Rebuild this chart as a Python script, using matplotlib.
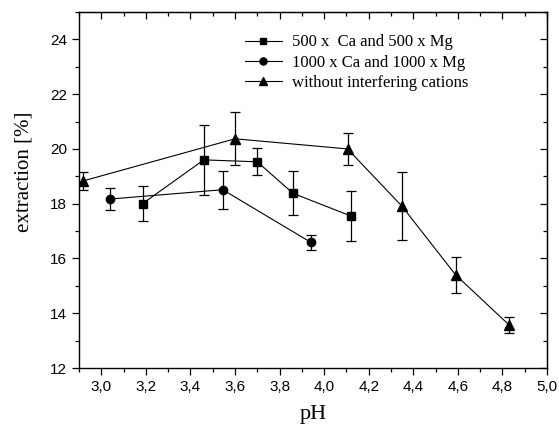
import matplotlib
matplotlib.use("Agg")
import matplotlib.pyplot as plt
from matplotlib.lines import Line2D
from matplotlib.ticker import MultipleLocator, FuncFormatter

# data
ph_500 = [3.185, 3.46, 3.70, 3.86, 4.12]
ext_500 = [18.0, 19.6, 19.53, 18.38, 17.55]
err_500 = [0.65, 1.29, 0.49, 0.80, 0.93]

ph_1000 = [3.04, 3.545, 3.94]
ext_1000 = [18.17, 18.51, 16.59]
err_1000 = [0.40, 0.70, 0.28]

ph_free = [2.918, 3.60, 4.105, 4.35, 4.59, 4.83]
ext_free = [18.83, 20.37, 20.0, 17.9, 15.4, 13.57]
err_free = [0.33, 0.97, 0.58, 1.24, 0.67, 0.29]

labels = ["500 x  Ca and 500 x Mg", "1000 x Ca and 1000 x Mg", "without interfering cations"]
markers = ["s", "o", "^"]
sizes = [5.5, 6, 6.8]

serif = "Liberation Serif"
sans = "Liberation Sans"

fig = plt.figure(figsize=(5.59, 4.32), dpi=100)
ax = fig.add_axes([79 / 559, 1 - 368 / 432, (547 - 79) / 559, (368 - 12) / 432])

common = dict(color="black", lw=0.8, capsize=3.5, elinewidth=0.9, capthick=0.9)
series = [(ph_500, ext_500, err_500), (ph_1000, ext_1000, err_1000), (ph_free, ext_free, err_free)]
for (x, y, e), m, s in zip(series, markers, sizes):
    ax.errorbar(x, y, yerr=e, marker=m, ms=s, **common)

ax.set_xlim(2.9, 5.0)
ax.set_ylim(12, 25)
ax.xaxis.set_major_locator(MultipleLocator(0.2))
ax.xaxis.set_minor_locator(MultipleLocator(0.1))
ax.yaxis.set_major_locator(MultipleLocator(2))
ax.yaxis.set_minor_locator(MultipleLocator(1))
ax.xaxis.set_major_formatter(FuncFormatter(lambda v, p: f"{v:.1f}".replace(".", ",")))
ax.yaxis.set_major_formatter(FuncFormatter(lambda v, p: f"{v:.0f}"))

ax.tick_params(which="both", direction="out", top=False, right=False, width=0.9)
ax.tick_params(which="major", length=5)
ax.tick_params(which="minor", length=3)
for lab in ax.get_xticklabels() + ax.get_yticklabels():
    lab.set_fontfamily(sans)
    lab.set_fontsize(11)

# inner ticks on top and right
sec_x = ax.secondary_xaxis("top")
sec_x.xaxis.set_major_locator(MultipleLocator(0.2))
sec_x.xaxis.set_minor_locator(MultipleLocator(0.1))
sec_x.tick_params(which="both", direction="in", labeltop=False, width=0.9)
sec_x.tick_params(which="major", length=5)
sec_x.tick_params(which="minor", length=3)
sec_y = ax.secondary_yaxis("right")
sec_y.yaxis.set_major_locator(MultipleLocator(2))
sec_y.yaxis.set_minor_locator(MultipleLocator(1))
sec_y.tick_params(which="both", direction="in", labelright=False, width=0.9)
sec_y.tick_params(which="major", length=5)
sec_y.tick_params(which="minor", length=3)

for sp in ax.spines.values():
    sp.set_linewidth(1.0)

ax.set_xlabel("pH", fontfamily=serif, fontsize=16, labelpad=8)
ax.set_ylabel("extraction [%]", fontfamily=serif, fontsize=15)
ax.yaxis.set_label_coords(-0.098, 0.55)

handles = [Line2D([], [], color="black", lw=0.8, marker=m, ms=s * 0.85) for m, s in zip(markers, sizes)]
leg = ax.legend(handles, labels, loc="upper left", bbox_to_anchor=(0.33, 0.97), frameon=False,
                prop={"family": serif, "size": 12}, handlelength=2.2,
                handletextpad=0.6, labelspacing=0.25, borderpad=0.2)

fig.savefig("out.png", dpi=100)
